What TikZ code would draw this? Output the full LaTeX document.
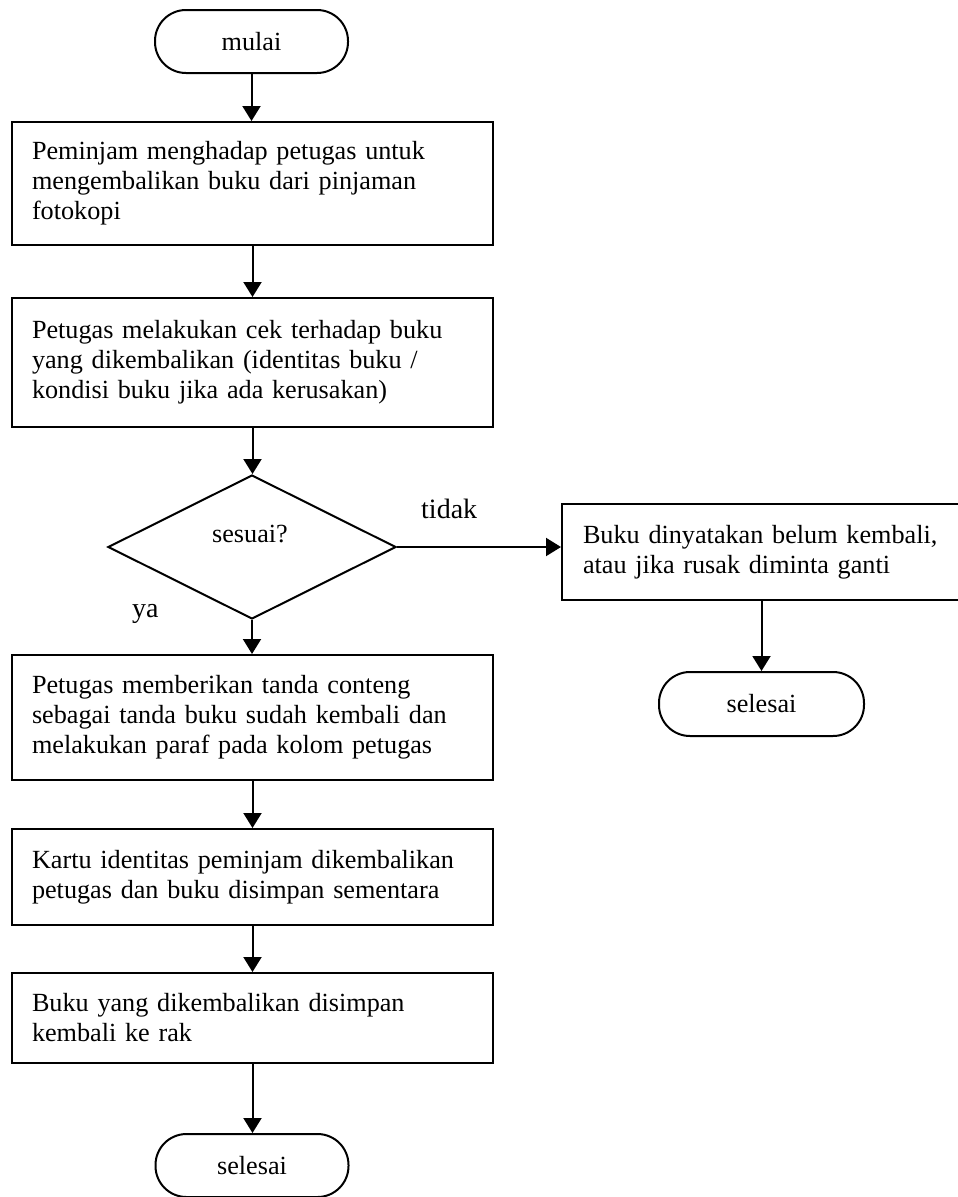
\documentclass[tikz,border=0pt]{standalone}
\usepackage{fontspec}
\setmainfont{Liberation Serif}
\usetikzlibrary{arrows.meta,shapes.geometric}
\begin{document}
\begin{tikzpicture}[x=1pt,y=-1pt,
  every node/.style={font=\fontsize{26.2}{30}\selectfont},
  proc/.style={draw,line width=2pt,rectangle,inner sep=0pt,minimum width=481pt,text width=441pt,align=left},
  term/.style={draw,line width=2pt,rectangle,rounded corners=31pt,minimum width=193pt,minimum height=63pt,inner sep=0pt},
  dec/.style={draw,line width=2pt,diamond,minimum width=288pt,minimum height=144pt,inner sep=0pt},
  lbl/.style={font=\fontsize{28}{30}\selectfont,inner sep=0pt},
  flow/.style={line width=2pt,-{Triangle[length=15pt,width=18pt]}}]
\fill[white] (0,0) rectangle (958,1197);
\useasboundingbox (0,0) rectangle (958,1197);
\clip (0,0) rectangle (958,1197);

\node[term] (t1) at (251.5,41.5) {mulai};
\node[proc,minimum height=123pt] (b1) at (252.5,183.5)
  {Peminjam menghadap petugas untuk\\mengembalikan buku dari pinjaman\\fotokopi};
\node[proc,minimum height=129pt] (b2) at (252.5,362.5)
  {Petugas melakukan cek terhadap buku\\yang dikembalikan (identitas buku /\\kondisi buku jika ada kerusakan)};
\node[dec] (d) at (252,547) {};
\node[inner sep=0pt,anchor=base] (dq) at (250,542) {sesuai?};
\node[proc,minimum height=125pt] (b3) at (252.5,717.5)
  {Petugas memberikan tanda conteng\\sebagai tanda buku sudah kembali dan\\melakukan paraf pada kolom petugas};
\node[proc,minimum height=96pt] (b4) at (252.5,877)
  {Kartu identitas peminjam dikembalikan\\petugas dan buku disimpan sementara};
\node[proc,minimum height=90pt] (b5) at (252.5,1018)
  {Buku yang dikembalikan disimpan\\kembali ke rak};
\node[term] (t2) at (252,1165.5) {selesai};

\node[proc,minimum width=420pt,text width=378pt,minimum height=96pt] (r) at (772,552)
  {Buku dinyatakan belum kembali,\\atau jika rusak diminta ganti};
\node[term,minimum width=205pt,minimum height=64pt] (t3) at (761.5,704) {selesai};

\node[lbl,anchor=base west] (tidak) at (421,518) {tidak};
\node[lbl,anchor=base west] (ya) at (132,617) {ya};

\draw[flow] (t1.south) -- (t1.south |- b1.north);
\draw[flow] (b1.south) -- (b1.south |- b2.north);
\draw[flow] (b2.south) -- (b2.south |- d.north);
\draw[flow] (d.south) -- (d.south |- b3.north);
\draw[flow] (b3.south) -- (b3.south |- b4.north);
\draw[flow] (b4.south) -- (b4.south |- b5.north);
\draw[flow] (b5.south) -- (b5.south |- t2.north);
\draw[flow] (d.east) -- (d.east -| r.west);
\draw[flow] (t3.north |- r.south) -- (t3.north);
\end{tikzpicture}
\end{document}
